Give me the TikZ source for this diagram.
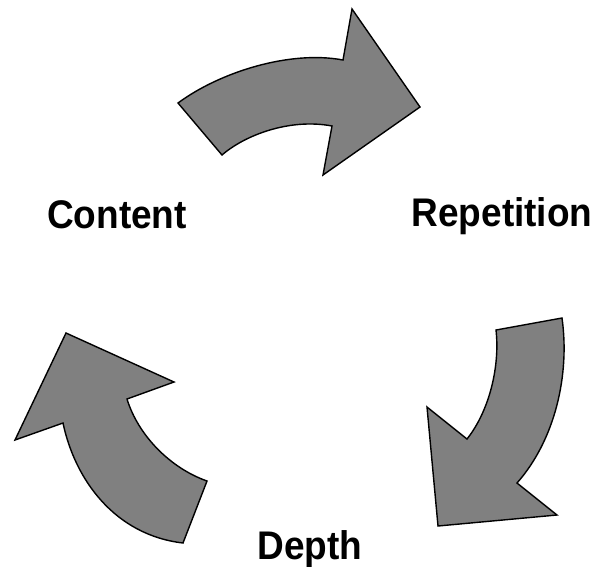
\documentclass[tikz,border=0pt]{standalone}
\usepackage{fontspec}
\setmainfont{Liberation Sans}
\usepackage{graphicx}
\tikzset{
  cyclearrow/.style={fill={rgb,255:red,128;green,128;blue,128}, draw=black, line width=1.4pt, line join=miter},
  cyclelabel/.style={anchor=base, inner sep=0pt, font=\fontsize{37}{40}\selectfont\bfseries}
}
\begin{document}
\begin{tikzpicture}[x=1pt,y=-1pt]
\useasboundingbox (0,0) rectangle (594,566);
% top arrow
\draw[cyclearrow] (178,103) .. controls (220,72) and (290,50) .. (343,60)
  -- (352,9) -- (420,107) -- (323,175) -- (332,126)
  .. controls (290,118) and (245,135) .. (222,155) -- cycle;
% right arrow
\draw[cyclearrow] (562,318) .. controls (570,375) and (555,440) .. (517,483)
  -- (557,515) -- (438,526) -- (427,407) -- (467,439)
  .. controls (490,410) and (500,365) .. (496,330) -- cycle;
% left arrow
\draw[cyclearrow] (183,543) .. controls (115,535) and (75,480) .. (63,423)
  -- (15,440) -- (66,333) -- (174,382) -- (127,399)
  .. controls (138,435) and (170,468) .. (207,481) -- cycle;
% labels
\node[cyclelabel] (content) at (117,228) {\scalebox{1}[1.08]{Content}};
\node[cyclelabel] (repetition) at (502,226) {\scalebox{1}[1.08]{Repetition}};
\node[cyclelabel] (depth) at (310,559) {\scalebox{1}[1.08]{Depth}};
\end{tikzpicture}
\end{document}
